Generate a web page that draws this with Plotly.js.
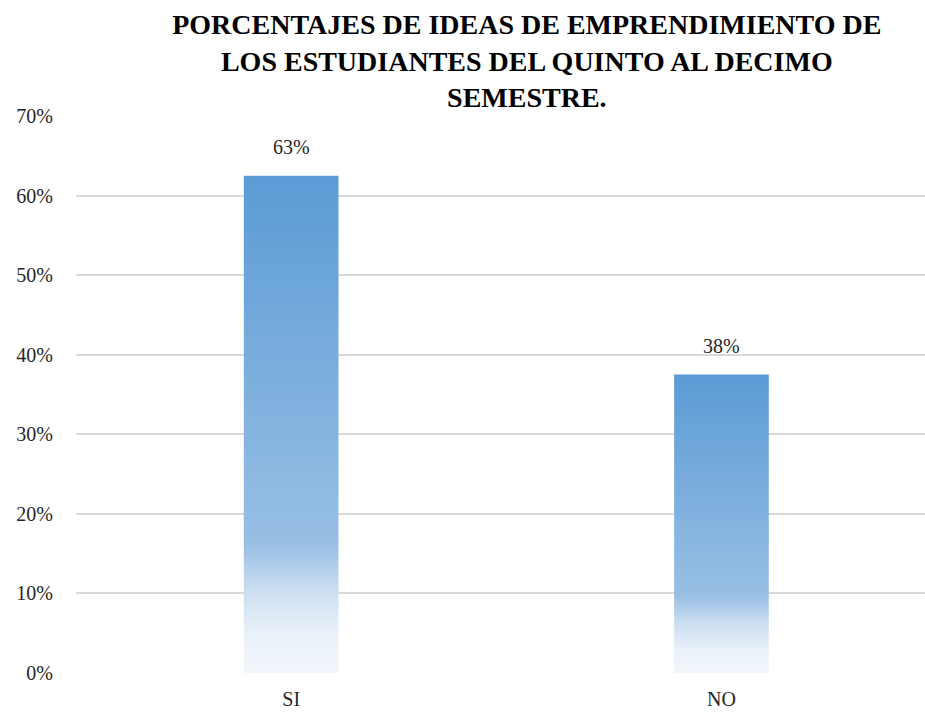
<!DOCTYPE html>
<html>
<head>
<meta charset="utf-8">
<script src="https://cdn.plot.ly/plotly-3.0.1.min.js"></script>
<style>html,body{margin:0;padding:0;background:#fff;}#chart{width:925px;height:713px;}</style>
</head>
<body>
<div id="chart"></div>
<script>
// Data
const categories = ["SI", "NO"];
const values = [62.5, 37.5];
const labels = ["63%", "38%"];
const yTickVals = [0, 10, 20, 30, 40, 50, 60, 70];
const yTickText = ["0%", "10%", "20%", "30%", "40%", "50%", "60%", "70%"];
const titleText = "<b>PORCENTAJES DE IDEAS DE EMPRENDIMIENTO DE<br>LOS ESTUDIANTES DEL QUINTO AL DECIMO<br>SEMESTRE.</b>";

const barWidth = 0.22;
const font = "'Liberation Serif', Tinos, 'DejaVu Serif', serif";
const gradient = [[0, '#f2f6fb'], [0.08, '#e9f1f9'], [0.17, '#cadcf0'], [0.26, '#98bfe4'], [1, '#5b9bd5']];

const traces = categories.map((c, i) => {
  const v = values[i];
  return {
    type: 'scatter',
    mode: 'lines',
    x: [i - barWidth / 2, i + barWidth / 2, i + barWidth / 2, i - barWidth / 2, i - barWidth / 2],
    y: [0, 0, v, v, 0],
    fill: 'toself',
    line: {width: 0, color: 'rgba(0,0,0,0)'},
    fillgradient: {type: 'vertical', colorscale: gradient, start: 0, stop: v},
    hoverinfo: 'skip',
    showlegend: false,
    name: c
  };
});

const annotations = categories.map((c, i) => ({
  x: i, y: values[i], xref: 'x', yref: 'y',
  text: labels[i], showarrow: false, yanchor: 'bottom', yshift: 16,
  font: {family: font, size: 20, color: '#262626'}
}));

const layout = {
  width: 925, height: 713,
  paper_bgcolor: '#fff', plot_bgcolor: '#fff',
  font: {family: font},
  margin: {l: 76, r: 0, t: 116, b: 40},
  title: {
    text: titleText,
    font: {family: font, size: 28, color: '#000'},
    x: 0.531, xanchor: 'center', xref: 'paper',
    y: 0.952, yanchor: 'middle', yref: 'container'
  },
  xaxis: {
    range: [-0.5, 1.473],
    tickvals: categories.map((c, i) => i),
    ticktext: categories,
    showgrid: false, zeroline: false, showline: false, ticks: '',
    tickfont: {family: font, size: 20, color: '#262626'},
    ticklabelstandoff: 12,
    fixedrange: true
  },
  yaxis: {
    range: [0, 70],
    tickvals: yTickVals, ticktext: yTickText,
    showgrid: true, gridcolor: '#d9d9d9', gridwidth: 2,
    zeroline: false, showline: false, ticks: '',
    tickfont: {family: font, size: 20, color: '#262626'},
    ticklabelstandoff: 22,
    fixedrange: true
  },
  annotations: annotations,
  showlegend: false
};

Plotly.newPlot('chart', traces, layout, {displayModeBar: false, staticPlot: true});
</script>
</body>
</html>
